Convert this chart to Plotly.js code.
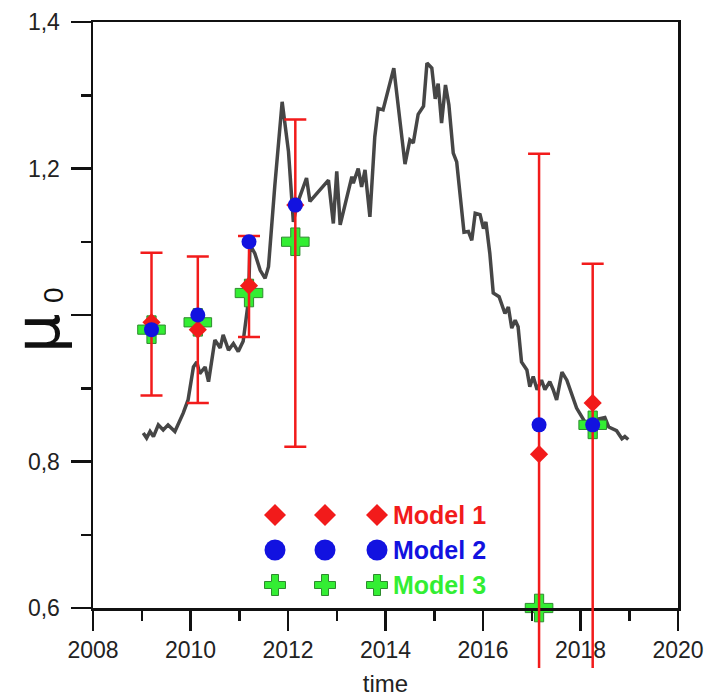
<!DOCTYPE html>
<html>
<head>
<meta charset="utf-8">
<script src="https://cdn.plot.ly/plotly-3.0.1.min.js"></script>
<style>html,body{margin:0;padding:0;background:#fff;}#chart{width:712px;height:698px;}</style>
</head>
<body>
<div id="chart"></div>
<script>
// ---- data ----
const seriesX = [2009.03,2009.10,2009.17,2009.24,2009.34,2009.44,2009.54,2009.68,2009.85,2009.95,
 2010.06,2010.13,2010.19,2010.30,2010.37,2010.50,2010.61,2010.67,2010.78,2010.88,
 2010.98,2011.08,2011.19,2011.22,2011.32,2011.43,2011.53,2011.60,2011.73,2011.88,
 2012.01,2012.11,2012.18,2012.29,2012.38,2012.45,2012.59,2012.83,2012.93,2013.00,
 2013.07,2013.31,2013.34,2013.44,2013.51,2013.58,2013.68,2013.78,2013.85,2013.95,
 2014.17,2014.40,2014.50,2014.57,2014.67,2014.78,2014.85,2014.95,2015.02,2015.08,
 2015.15,2015.23,2015.30,2015.39,2015.46,2015.61,2015.70,2015.77,2015.84,2015.94,
 2016.01,2016.06,2016.14,2016.21,2016.33,2016.45,2016.52,2016.59,2016.66,2016.72,
 2016.79,2016.90,2016.96,2017.03,2017.11,2017.20,2017.27,2017.37,2017.44,2017.51,
 2017.62,2017.72,2017.92,2018.09,2018.23,2018.36,2018.50,2018.58,2018.74,2018.85,
 2018.91,2018.98];
const seriesY = [0.839,0.832,0.841,0.834,0.850,0.843,0.850,0.841,0.866,0.884,
 0.929,0.936,0.920,0.929,0.909,0.966,0.955,0.973,0.952,0.961,
 0.950,0.964,1.020,1.096,1.084,1.061,1.050,1.066,1.177,1.291,
 1.223,1.127,1.150,1.171,1.187,1.155,1.166,1.184,1.125,1.196,
 1.123,1.189,1.180,1.200,1.175,1.198,1.134,1.243,1.282,1.280,
 1.337,1.206,1.239,1.235,1.274,1.285,1.344,1.337,1.295,1.316,
 1.262,1.314,1.287,1.221,1.209,1.113,1.114,1.102,1.139,1.137,
 1.118,1.127,1.084,1.030,1.025,1.002,1.011,0.982,0.993,0.984,
 0.936,0.925,0.902,0.916,0.898,0.911,0.898,0.909,0.898,0.884,
 0.922,0.911,0.873,0.854,0.843,0.858,0.860,0.847,0.842,0.831,
 0.834,0.830];

const modelX = [2009.2, 2010.15, 2011.2, 2012.15, 2017.15, 2018.25];
const model1 = [0.99, 0.98, 1.04, 1.15, 0.81, 0.88];
const model2 = [0.98, 1.00, 1.10, 1.15, 0.85, 0.85];
const model3 = [0.98, 0.99, 1.03, 1.10, 0.60, 0.85];
const errUpper = [1.085, 1.08, 1.108, 1.267, 1.22, 1.07];
const errLower = [0.89, 0.88, 0.97, 0.82, 0.50, 0.50];

const yTickVals = [0.6, 0.8, 1.0, 1.2, 1.4];
const yTickText = ['0,6', '0,8', '', '1,2', '1,4'];
const xTickVals = [2008, 2010, 2012, 2014, 2016, 2018, 2020];
const legendNames = ['Model 1', 'Model 2', 'Model 3'];

// ---- styles ----
const RED = '#f21b1b', BLUE = '#1212e0', GREEN = '#33ee33', GREEN_EDGE = '#2e8b2e';
const FONT = 'Liberation Sans, Arial, sans-serif';

const errY = {type: 'data', symmetric: false,
  array: errUpper.map((u, i) => u - model1[i]),
  arrayminus: errLower.map((l, i) => model1[i] - l),
  color: RED, thickness: 2.5, width: 11};

const traces = [
  {x: seriesX, y: seriesY, mode: 'lines', line: {color: '#464646', width: 3.5}, showlegend: false, hoverinfo: 'skip'},
  {x: modelX, y: model3, mode: 'markers', name: legendNames[2], cliponaxis: false,
   marker: {symbol: 'cross', size: 23, color: GREEN, line: {color: GREEN_EDGE, width: 1}}, showlegend: false},
  {x: modelX, y: model1, mode: 'markers', name: legendNames[0], cliponaxis: false,
   marker: {symbol: 'diamond', size: 14, color: RED}, showlegend: false, error_y: errY},
  {x: modelX, y: model2, mode: 'markers', name: legendNames[1], cliponaxis: false,
   marker: {symbol: 'circle', size: 15, color: BLUE}, showlegend: false},
  // continuation of the error bars below the x axis (same scale, strip under the plot)
  {x: modelX, y: model1, xaxis: 'x2', yaxis: 'y2', mode: 'markers', marker: {size: 0.1, opacity: 0},
   showlegend: false, hoverinfo: 'skip', error_y: errY}
];

// geometry
const L = 93, T = 22, R = 678, AXB = 608, B = 668;
const W = R - L, H = B - T;           // paper size in px
const d = (B - AXB) / H;              // fraction of paper under the x axis
const px = v => (v - L) / W;
const py = v => (B - v) / H;

// legend drawn as layout decoration (paper coordinates)
const colX = [275, 325, 377].map(px);
const rowY = [515, 550, 585].map(py);
const shapes = [];
colX.forEach(cx => {
  shapes.push({type: 'path', xref: 'paper', yref: 'paper', xsizemode: 'pixel', ysizemode: 'pixel',
    xanchor: cx, yanchor: rowY[0], path: 'M -11,0 L 0,11 L 11,0 L 0,-11 Z',
    fillcolor: RED, line: {width: 0}});
  shapes.push({type: 'circle', xref: 'paper', yref: 'paper', xsizemode: 'pixel', ysizemode: 'pixel',
    xanchor: cx, yanchor: rowY[1], x0: -10.5, x1: 10.5, y0: -10.5, y1: 10.5,
    fillcolor: BLUE, line: {width: 0}});
  shapes.push({type: 'path', xref: 'paper', yref: 'paper', xsizemode: 'pixel', ysizemode: 'pixel',
    xanchor: cx, yanchor: rowY[2],
    path: 'M -3.5,-10.5 L 3.5,-10.5 L 3.5,-3.5 L 10.5,-3.5 L 10.5,3.5 L 3.5,3.5 L 3.5,10.5 L -3.5,10.5 L -3.5,3.5 L -10.5,3.5 L -10.5,-3.5 L -3.5,-3.5 Z',
    fillcolor: GREEN, line: {color: GREEN_EDGE, width: 1}});
});
const legendColors = [RED, BLUE, GREEN];
const annotations = legendNames.map((n, i) => ({
  xref: 'paper', yref: 'paper', x: px(391), y: rowY[i], xanchor: 'left', yanchor: 'middle',
  text: '<b>' + n + '</b>', showarrow: false, font: {family: FONT, size: 25, color: legendColors[i]}
}));
// y-axis title μ0 (it stands in place of the "1,0" tick label, as in the original)
annotations.push({xref: 'paper', yref: 'paper', x: px(37), y: py(333), textangle: -90,
  text: 'μ', showarrow: false, xanchor: 'center', yanchor: 'middle',
  font: {family: 'DejaVu Sans, sans-serif', size: 62, color: '#111'}});
annotations.push({xref: 'paper', yref: 'paper', x: px(53), y: py(295), textangle: -90,
  text: '0', showarrow: false, xanchor: 'center', yanchor: 'middle',
  font: {family: FONT, size: 28, color: '#111'}});

const axisCommon = {
  showline: true, linecolor: '#111', linewidth: 2.5, mirror: true,
  ticks: 'outside', ticklen: 20, tickwidth: 2.5, tickcolor: '#111',
  showgrid: false, zeroline: false,
  tickfont: {family: FONT, size: 23, color: '#222'}
};

const layout = {
  width: 712, height: 698,
  margin: {l: L, r: 712 - R, t: T, b: 698 - B},
  paper_bgcolor: '#fff', plot_bgcolor: 'rgba(0,0,0,0)',
  showlegend: false,
  xaxis: Object.assign({}, axisCommon, {
    range: [2008, 2020], tickmode: 'array', tickvals: xTickVals, anchor: 'y',
    minor: {dtick: 1, ticklen: 10, tickwidth: 2.5, tickcolor: '#111', ticks: 'outside'},
    title: {text: 'time', font: {family: FONT, size: 24, color: '#222'}, standoff: 13}
  }),
  yaxis: Object.assign({}, axisCommon, {
    domain: [d, 1], range: [0.6, 1.4], tickmode: 'array', tickvals: yTickVals, ticktext: yTickText,
    ticklabelstandoff: 6,
    minor: {dtick: 0.1, ticklen: 10, tickwidth: 2.5, tickcolor: '#111', ticks: 'outside'}
  }),
  xaxis2: {matches: 'x', anchor: 'y2', visible: false, range: [2008, 2020]},
  yaxis2: {domain: [0, d], range: [0.6 - 0.8 * (B - AXB) / (AXB - T), 0.6], anchor: 'x2', visible: false},
  shapes: shapes,
  annotations: annotations
};

Plotly.newPlot('chart', traces, layout, {displayModeBar: false, staticPlot: true});
</script>
</body>
</html>
